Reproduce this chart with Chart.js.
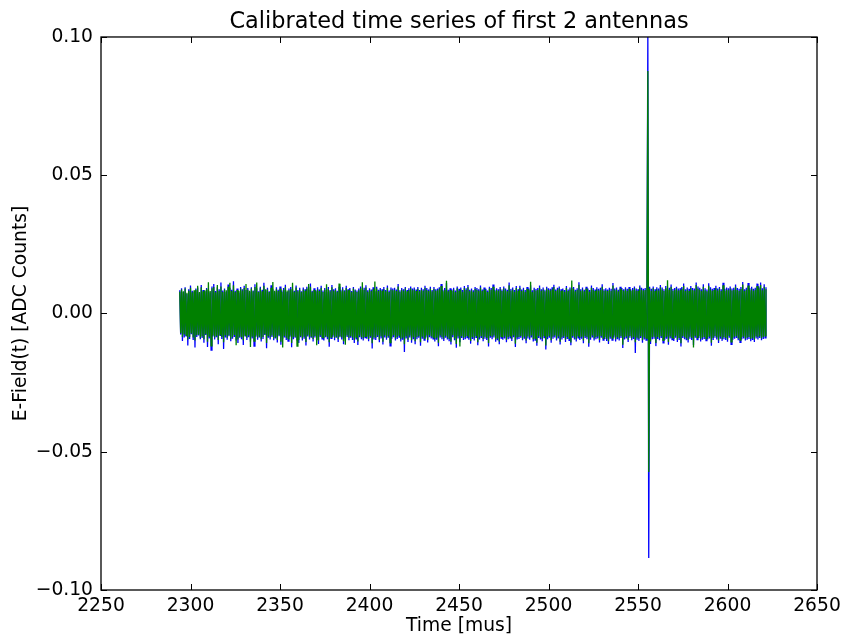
<!DOCTYPE html>
<html>
<head>
<meta charset="utf-8">
<title>Calibrated time series of first 2 antennas</title>
<script src="https://cdn.jsdelivr.net/npm/chart.js@4/dist/chart.umd.min.js"></script>
<style>
  html, body { margin: 0; padding: 0; background: #ffffff; }
  canvas { display: block; }
</style>
</head>
<body>
<canvas id="c" width="842" height="637"></canvas>
<script>
// ---- data ----
const chartTitle = 'Calibrated time series of first 2 antennas';
const xAxisLabel = 'Time [mus]';
const yAxisLabel = 'E-Field(t) [ADC Counts]';
const seriesNames = ['Antenna 0', 'Antenna 1'];
const xTickValues = [2250, 2300, 2350, 2400, 2450, 2500, 2550, 2600, 2650];
const yTickValues = [-0.10, -0.05, 0.00, 0.05, 0.10];
const startTime = 2294;   // first sample [mus]
const sampleStep = 0.5;   // spacing of the samples [mus]

// E-field of antenna 0 (blue), one row = 10 mus
const antenna0 = [
  .0084,-.0076,.0091,-.0099,.0078,-.0087,.0095,-.0081,.0071,-.0116,.0088,-.0092,.0101,-.0075,.0082,-.0096,.0079,-.0123,.0090,-.0085,
  .0094,-.0080,.0073,-.0093,.0103,-.0089,.0085,-.0106,.0080,-.0078,.0092,-.0121,.0086,-.0090,.0077,-.0132,.0098,-.0083,.0107,-.0094,
  .0081,-.0086,.0095,-.0111,.0088,-.0079,.0112,-.0092,.0083,-.0128,.0090,-.0087,.0078,-.0095,.0105,-.0082,.0093,-.0100,.0086,-.0091,
  .0117,-.0085,.0082,-.0098,.0090,-.0107,.0076,-.0088,.0096,-.0093,.0088,-.0114,.0100,-.0081,.0085,-.0096,.0092,-.0086,.0078,-.0102,
  .0095,-.0090,.0083,-.0118,.0106,-.0084,.0091,-.0095,.0080,-.0087,.0097,-.0101,.0086,-.0092,.0111,-.0078,.0084,-.0126,.0093,-.0088,
  .0080,-.0094,.0102,-.0085,.0088,-.0097,.0077,-.0090,.0095,-.0105,.0086,-.0082,.0098,-.0113,.0083,-.0091,.0092,-.0087,.0104,-.0096,
  .0078,-.0100,.0090,-.0084,.0096,-.0122,.0087,-.0093,.0082,-.0088,.0101,-.0095,.0085,-.0107,.0093,-.0086,.0080,-.0098,.0094,-.0091,
  .0088,-.0116,.0097,-.0083,.0086,-.0094,.0108,-.0088,.0082,-.0101,.0091,-.0087,.0084,-.0096,.0095,-.0110,.0087,-.0085,.0100,-.0092,
  .0083,-.0098,.0092,-.0086,.0078,-.0093,.0096,-.0120,.0085,-.0090,.0103,-.0084,.0088,-.0097,.0091,-.0088,.0082,-.0103,.0097,-.0086,
  .0086,-.0094,.0095,-.0111,.0084,-.0090,.0100,-.0085,.0088,-.0097,.0092,-.0088,.0081,-.0096,.0096,-.0107,.0087,-.0092,.0083,-.0114,
  .0090,-.0086,.0098,-.0093,.0085,-.0098,.0093,-.0087,.0102,-.0091,.0084,-.0100,.0091,-.0088,.0087,-.0127,.0095,-.0094,.0080,-.0096,
  .0097,-.0085,.0086,-.0104,.0092,-.0090,.0088,-.0112,.0096,-.0087,.0085,-.0095,.0101,-.0088,.0083,-.0117,.0094,-.0091,.0090,-.0086,
  .0093,-.0098,.0087,-.0092,.0107,-.0085,.0084,-.0101,.0092,-.0095,.0088,-.0139,.0096,-.0090,.0085,-.0103,.0091,-.0087,.0098,-.0106,
  .0090,-.0093,.0094,-.0111,.0087,-.0093,.0096,-.0088,.0085,-.0117,.0093,-.0091,.0088,-.0096,.0100,-.0087,.0092,-.0105,.0087,-.0086,
  .0097,-.0090,.0085,-.0092,.0096,-.0101,.0088,-.0095,.0090,-.0118,.0095,-.0087,.0107,-.0093,.0086,-.0099,.0092,-.0088,.0110,-.0094,
  .0086,-.0100,.0091,-.0112,.0087,-.0086,.0093,-.0097,.0083,-.0124,.0098,-.0090,.0089,-.0104,.0094,-.0089,.0085,-.0096,.0099,-.0093,
  .0091,-.0087,.0103,-.0095,.0086,-.0109,.0090,-.0092,.0084,-.0098,.0096,-.0086,.0092,-.0115,.0088,-.0094,.0101,-.0089,.0087,-.0100,
  .0094,-.0091,.0089,-.0096,.0083,-.0119,.0097,-.0088,.0092,-.0093,.0105,-.0087,.0086,-.0102,.0091,-.0097,.0088,-.0111,.0096,-.0089,
  .0087,-.0095,.0098,-.0090,.0090,-.0104,.0086,-.0093,.0112,-.0088,.0089,-.0099,.0094,-.0086,.0085,-.0121,.0099,-.0094,.0088,-.0092,
  .0100,-.0088,.0087,-.0097,.0093,-.0091,.0085,-.0108,.0096,-.0090,.0090,-.0095,.0102,-.0087,.0084,-.0101,.0093,-.0096,.0089,-.0117,
  .0092,-.0089,.0101,-.0094,.0088,-.0100,.0094,-.0087,.0086,-.0130,.0097,-.0093,.0091,-.0088,.0089,-.0106,.0095,-.0091,.0104,-.0087,
  .0087,-.0098,.0093,-.0090,.0098,-.0112,.0088,-.0094,.0090,-.0089,.0085,-.0103,.0099,-.0092,.0087,-.0097,.0094,-.0115,.0092,-.0088,
  .0096,-.0094,.0086,-.0101,.0091,-.0088,.0113,-.0096,.0088,-.0091,.0094,-.0108,.0086,-.0089,.0097,-.0093,.0090,-.0120,.0085,-.0095,
  .0101,-.0087,.0092,-.0098,.0087,-.0093,.0095,-.0090,.0089,-.0105,.0093,-.0088,.0106,-.0096,.0088,-.0092,.0091,-.0099,.0087,-.0110,
  .0093,-.0091,.0089,-.0096,.0110,-.0087,.0090,-.0101,.0094,-.0093,.0086,-.0098,.0097,-.0089,.0092,-.0125,.0088,-.0094,.0095,-.0090,
  .0089,-.0103,.0096,-.0088,.0087,-.0097,.0092,-.0092,.0098,-.0143,.0090,-.0095,.0088,-.0099,.0101,-.0089,.0093,-.0106,.0089,-.0094,
  .0092,-.0096,.0090,.1000,-.0884,.0097,-.0110,.0089,-.0093,.0098,-.0091,.0088,-.0118,.0095,-.0092,.0090,-.0097,.0103,-.0089,.0094,
  -.0106,.0088,-.0095,.0099,-.0091,.0087,-.0113,.0093,-.0090,.0105,-.0094,.0089,-.0099,.0092,-.0088,.0097,-.0103,.0090,-.0096,.0091,
  -.0119,.0096,-.0089,.0108,-.0093,.0088,-.0097,.0094,-.0105,.0089,-.0091,.0099,-.0096,.0092,-.0114,.0090,-.0088,.0112,-.0094,.0098,
  -.0089,.0093,-.0101,.0088,-.0095,.0106,-.0092,.0091,-.0098,.0087,-.0093,.0109,-.0090,.0095,-.0117,.0089,-.0096,.0092,-.0088,.0100,
  -.0094,.0090,-.0107,.0096,-.0091,.0088,-.0099,.0111,-.0093,.0089,-.0096,.0094,-.0102,.0091,-.0088,.0098,-.0112,.0090,-.0095,.0093,
  -.0091,.0105,-.0089,.0092,-.0097,.0089,-.0104,.0096,-.0093,.0114,-.0090,.0088,-.0098,.0093,-.0095,.0110,-.0092,.0091,-.0100,.0097,
  -.0096,.0089,-.0103,.0093,-.0090,.0108,-.0094,.0098,-.0089,.0112,-.0097,.0091,-.0092,.0106,-.0088,.0095
];

// E-field of antenna 1 (green), one row = 10 mus
const antenna1 = [
  .0079,-.0071,.0087,-.0085,.0080,-.0076,.0090,-.0078,.0075,-.0094,.0082,-.0085,.0093,-.0072,.0077,-.0087,.0084,-.0098,.0086,-.0079,
  .0100,-.0077,.0078,-.0088,.0095,-.0083,.0080,-.0093,.0084,-.0075,.0088,-.0102,.0113,-.0084,.0081,-.0117,.0091,-.0080,.0096,-.0087,
  .0077,-.0081,.0103,-.0096,.0082,-.0076,.0098,-.0085,.0078,-.0104,.0086,-.0080,.0084,-.0088,.0097,-.0079,.0111,-.0092,.0081,-.0085,
  .0102,-.0078,.0078,-.0115,.0085,-.0094,.0081,-.0084,.0090,-.0086,.0083,-.0097,.0092,-.0078,.0107,-.0088,.0086,-.0080,.0082,-.0121,
  .0090,-.0084,.0080,-.0100,.0096,-.0080,.0112,-.0088,.0078,-.0083,.0091,-.0093,.0080,-.0085,.0100,-.0075,.0088,-.0107,.0087,-.0082,
  .0078,-.0087,.0093,-.0080,.0114,-.0090,.0082,-.0086,.0088,-.0096,.0081,-.0079,.0090,-.0102,.0078,-.0123,.0086,-.0081,.0095,-.0088,
  .0083,-.0092,.0084,-.0080,.0088,-.0107,.0111,-.0086,.0079,-.0084,.0094,-.0118,.0080,-.0096,.0086,-.0082,.0078,-.0090,.0087,-.0084,
  .0082,-.0103,.0090,-.0079,.0107,-.0087,.0097,-.0084,.0079,-.0092,.0085,-.0081,.0080,-.0115,.0088,-.0098,.0081,-.0080,.0093,-.0085,
  .0078,-.0090,.0086,-.0082,.0106,-.0086,.0088,-.0104,.0080,-.0085,.0095,-.0079,.0082,-.0088,.0085,-.0084,.0079,-.0093,.0108,-.0082,
  .0080,-.0087,.0088,-.0100,.0080,-.0113,.0092,-.0080,.0084,-.0088,.0086,-.0082,.0078,-.0087,.0090,-.0096,.0083,-.0085,.0078,-.0101,
  .0084,-.0080,.0091,-.0086,.0113,-.0090,.0086,-.0083,.0094,-.0084,.0079,-.0092,.0085,-.0082,.0081,-.0108,.0088,-.0087,.0116,-.0088,
  .0090,-.0080,.0081,-.0095,.0086,-.0083,.0082,-.0102,.0088,-.0080,.0080,-.0088,.0093,-.0082,.0078,-.0105,.0087,-.0084,.0084,-.0079,
  .0086,-.0090,.0081,-.0086,.0098,-.0078,.0079,-.0093,.0086,-.0088,.0082,-.0111,.0090,-.0083,.0080,-.0095,.0085,-.0080,.0091,-.0097,
  .0084,-.0086,.0087,-.0100,.0081,-.0086,.0089,-.0082,.0080,-.0104,.0086,-.0084,.0082,-.0089,.0093,-.0080,.0085,-.0096,.0081,-.0079,
  .0090,-.0083,.0080,-.0085,.0089,-.0093,.0082,-.0088,.0084,-.0106,.0089,-.0080,.0099,-.0086,.0080,-.0091,.0085,-.0081,.0118,-.0087,
  .0080,-.0092,.0085,-.0102,.0081,-.0079,.0087,-.0090,.0078,-.0110,.0091,-.0083,.0083,-.0119,.0087,-.0082,.0079,-.0089,.0092,-.0086,
  .0085,-.0080,.0095,-.0088,.0080,-.0099,.0084,-.0085,.0079,-.0090,.0089,-.0080,.0086,-.0104,.0082,-.0087,.0094,-.0082,.0081,-.0092,
  .0087,-.0084,.0083,-.0089,.0078,-.0107,.0090,-.0081,.0086,-.0086,.0097,-.0080,.0080,-.0094,.0085,-.0090,.0082,-.0101,.0089,-.0083,
  .0081,-.0088,.0091,-.0083,.0084,-.0095,.0080,-.0086,.0102,-.0081,.0083,-.0091,.0087,-.0080,.0079,-.0109,.0092,-.0087,.0082,-.0085,
  .0093,-.0081,.0081,-.0090,.0086,-.0084,.0079,-.0098,.0089,-.0083,.0084,-.0088,.0115,-.0080,.0078,-.0093,.0086,-.0089,.0083,-.0106,
  .0085,-.0082,.0093,-.0087,.0082,-.0092,.0087,-.0080,.0080,-.0116,.0090,-.0086,.0085,-.0081,.0083,-.0097,.0088,-.0084,.0096,-.0080,
  .0081,-.0090,.0086,-.0083,.0091,-.0102,.0082,-.0087,.0084,-.0082,.0079,-.0094,.0092,-.0085,.0081,-.0090,.0087,-.0105,.0119,-.0081,
  .0089,-.0087,.0080,-.0093,.0085,-.0081,.0104,-.0089,.0082,-.0084,.0087,-.0098,.0080,-.0082,.0090,-.0086,.0084,-.0108,.0079,-.0088,
  .0093,-.0080,.0085,-.0090,.0081,-.0086,.0088,-.0083,.0083,-.0096,.0086,-.0081,.0097,-.0089,.0082,-.0085,.0084,-.0091,.0081,-.0100,
  .0086,-.0084,.0082,-.0089,.0101,-.0080,.0084,-.0093,.0087,-.0086,.0080,-.0090,.0090,-.0082,.0085,-.0113,.0082,-.0087,.0088,-.0083,
  .0082,-.0095,.0089,-.0081,.0081,-.0090,.0085,-.0085,.0091,-.0104,.0083,-.0088,.0082,-.0091,.0094,-.0082,.0086,-.0097,.0083,-.0087,
  .0085,-.0089,.0083,.0877,-.0573,.0090,-.0101,.0082,-.0086,.0091,-.0084,.0081,-.0107,.0088,-.0085,.0083,-.0090,.0095,-.0082,.0087,
  -.0097,.0081,-.0088,.0091,-.0084,.0120,-.0103,.0086,-.0083,.0097,-.0087,.0082,-.0092,.0085,-.0081,.0090,-.0095,.0083,-.0089,.0084,
  -.0108,.0089,-.0082,.0099,-.0086,.0081,-.0090,.0087,-.0096,.0082,-.0084,.0092,-.0089,.0085,-.0123,.0083,-.0081,.0103,-.0087,.0090,
  -.0082,.0086,-.0093,.0081,-.0088,.0097,-.0085,.0084,-.0091,.0080,-.0086,.0100,-.0083,.0088,-.0106,.0082,-.0089,.0085,-.0081,.0092,
  -.0087,.0083,-.0098,.0089,-.0084,.0081,-.0092,.0102,-.0086,.0082,-.0089,.0087,-.0094,.0084,-.0081,.0090,-.0103,.0083,-.0088,.0086,
  -.0084,.0097,-.0082,.0085,-.0090,.0082,-.0096,.0089,-.0086,.0105,-.0083,.0081,-.0091,.0086,-.0088,.0101,-.0085,.0084,-.0092,.0089,
  -.0089,.0082,-.0095,.0086,-.0083,.0099,-.0087,.0091,-.0082,.0103,-.0090,.0084,-.0085,.0097,-.0081,.0088
];

// ---- build the library's data table ----
function toPoints(values) {
  return values.map((v, i) => ({ x: startTime + i * sampleStep, y: v }));
}

const FONT = "'DejaVu Sans', 'Liberation Sans', sans-serif";
const TICK_SIZE = 18.7;
const LABEL_SIZE = 18.7;
const TITLE_SIZE = 22.4;

// matplotlib-like frame with inward ticks on all four sides
const framePlugin = {
  id: 'frame',
  beforeDraw(chart) {
    const ctx = chart.ctx;
    ctx.save();
    ctx.fillStyle = '#ffffff';
    ctx.fillRect(0, 0, chart.width, chart.height);
    ctx.restore();
  },
  afterDraw(chart) {
    const { ctx, chartArea: a, scales } = chart;
    const L = 6;
    ctx.save();
    ctx.strokeStyle = '#000000';
    ctx.lineWidth = 1.3;
    ctx.strokeRect(a.left, a.top, a.right - a.left, a.bottom - a.top);
    ctx.lineWidth = 1;
    ctx.beginPath();
    xTickValues.forEach(v => {
      const px = Math.round(scales.x.getPixelForValue(v)) + 0.5;
      ctx.moveTo(px, a.bottom); ctx.lineTo(px, a.bottom - L);
      ctx.moveTo(px, a.top); ctx.lineTo(px, a.top + L);
    });
    yTickValues.forEach(v => {
      const py = Math.round(scales.y.getPixelForValue(v)) + 0.5;
      ctx.moveTo(a.left, py); ctx.lineTo(a.left + L, py);
      ctx.moveTo(a.right, py); ctx.lineTo(a.right - L, py);
    });
    ctx.stroke();
    ctx.restore();
  }
};

new Chart(document.getElementById('c'), {
  type: 'line',
  data: {
    datasets: [
      {
        label: seriesNames[0],
        data: toPoints(antenna0),
        borderColor: '#0000ff',
        borderWidth: 1.3,
        pointRadius: 0,
        tension: 0,
        fill: false,
        order: 1
      },
      {
        label: seriesNames[1],
        data: toPoints(antenna1),
        borderColor: '#008000',
        borderWidth: 1.3,
        pointRadius: 0,
        tension: 0,
        fill: false,
        order: 0
      }
    ]
  },
  options: {
    responsive: false,
    animation: false,
    devicePixelRatio: 1,
    layout: { padding: { left: 0, right: 25, top: 0, bottom: 0 } },
    plugins: {
      legend: { display: false },
      tooltip: { enabled: false },
      title: {
        display: true,
        fullSize: false,
        text: chartTitle,
        color: '#000000',
        font: { family: FONT, size: TITLE_SIZE, weight: 'normal', lineHeight: 1.2 },
        padding: { top: 8.5, bottom: 1.6 }
      }
    },
    scales: {
      x: {
        type: 'linear',
        min: 2250,
        max: 2650,
        afterBuildTicks(scale) { scale.ticks = xTickValues.map(v => ({ value: v })); },
        afterFit(scale) { scale.height = 47; scale.paddingLeft = 0; scale.paddingRight = 0; },
        grid: { display: false, drawTicks: false },
        border: { display: false },
        ticks: {
          color: '#000000',
          font: { family: FONT, size: TICK_SIZE },
          padding: 5,
          maxRotation: 0,
          autoSkip: false,
          callback: v => String(v)
        },
        title: {
          display: true,
          text: xAxisLabel,
          color: '#000000',
          font: { family: FONT, size: LABEL_SIZE, lineHeight: 1.2 },
          padding: { top: 0, bottom: 0 }
        }
      },
      y: {
        type: 'linear',
        min: -0.1,
        max: 0.1,
        afterBuildTicks(scale) { scale.ticks = yTickValues.map(v => ({ value: v })); },
        afterFit(scale) { scale.width = 101; scale.paddingTop = 0; scale.paddingBottom = 0; },
        grid: { display: false, drawTicks: false },
        border: { display: false },
        ticks: {
          color: '#000000',
          font: { family: FONT, size: TICK_SIZE },
          padding: 8,
          autoSkip: false,
          callback: v => {
            const s = Math.abs(v).toFixed(2);
            return v < -1e-9 ? '\u2212' + s : s;
          }
        },
        title: {
          display: true,
          text: yAxisLabel,
          color: '#000000',
          font: { family: FONT, size: LABEL_SIZE, lineHeight: 1.2 },
          padding: { top: 10, bottom: 0 }
        }
      }
    }
  },
  plugins: [framePlugin]
});
</script>
</body>
</html>
